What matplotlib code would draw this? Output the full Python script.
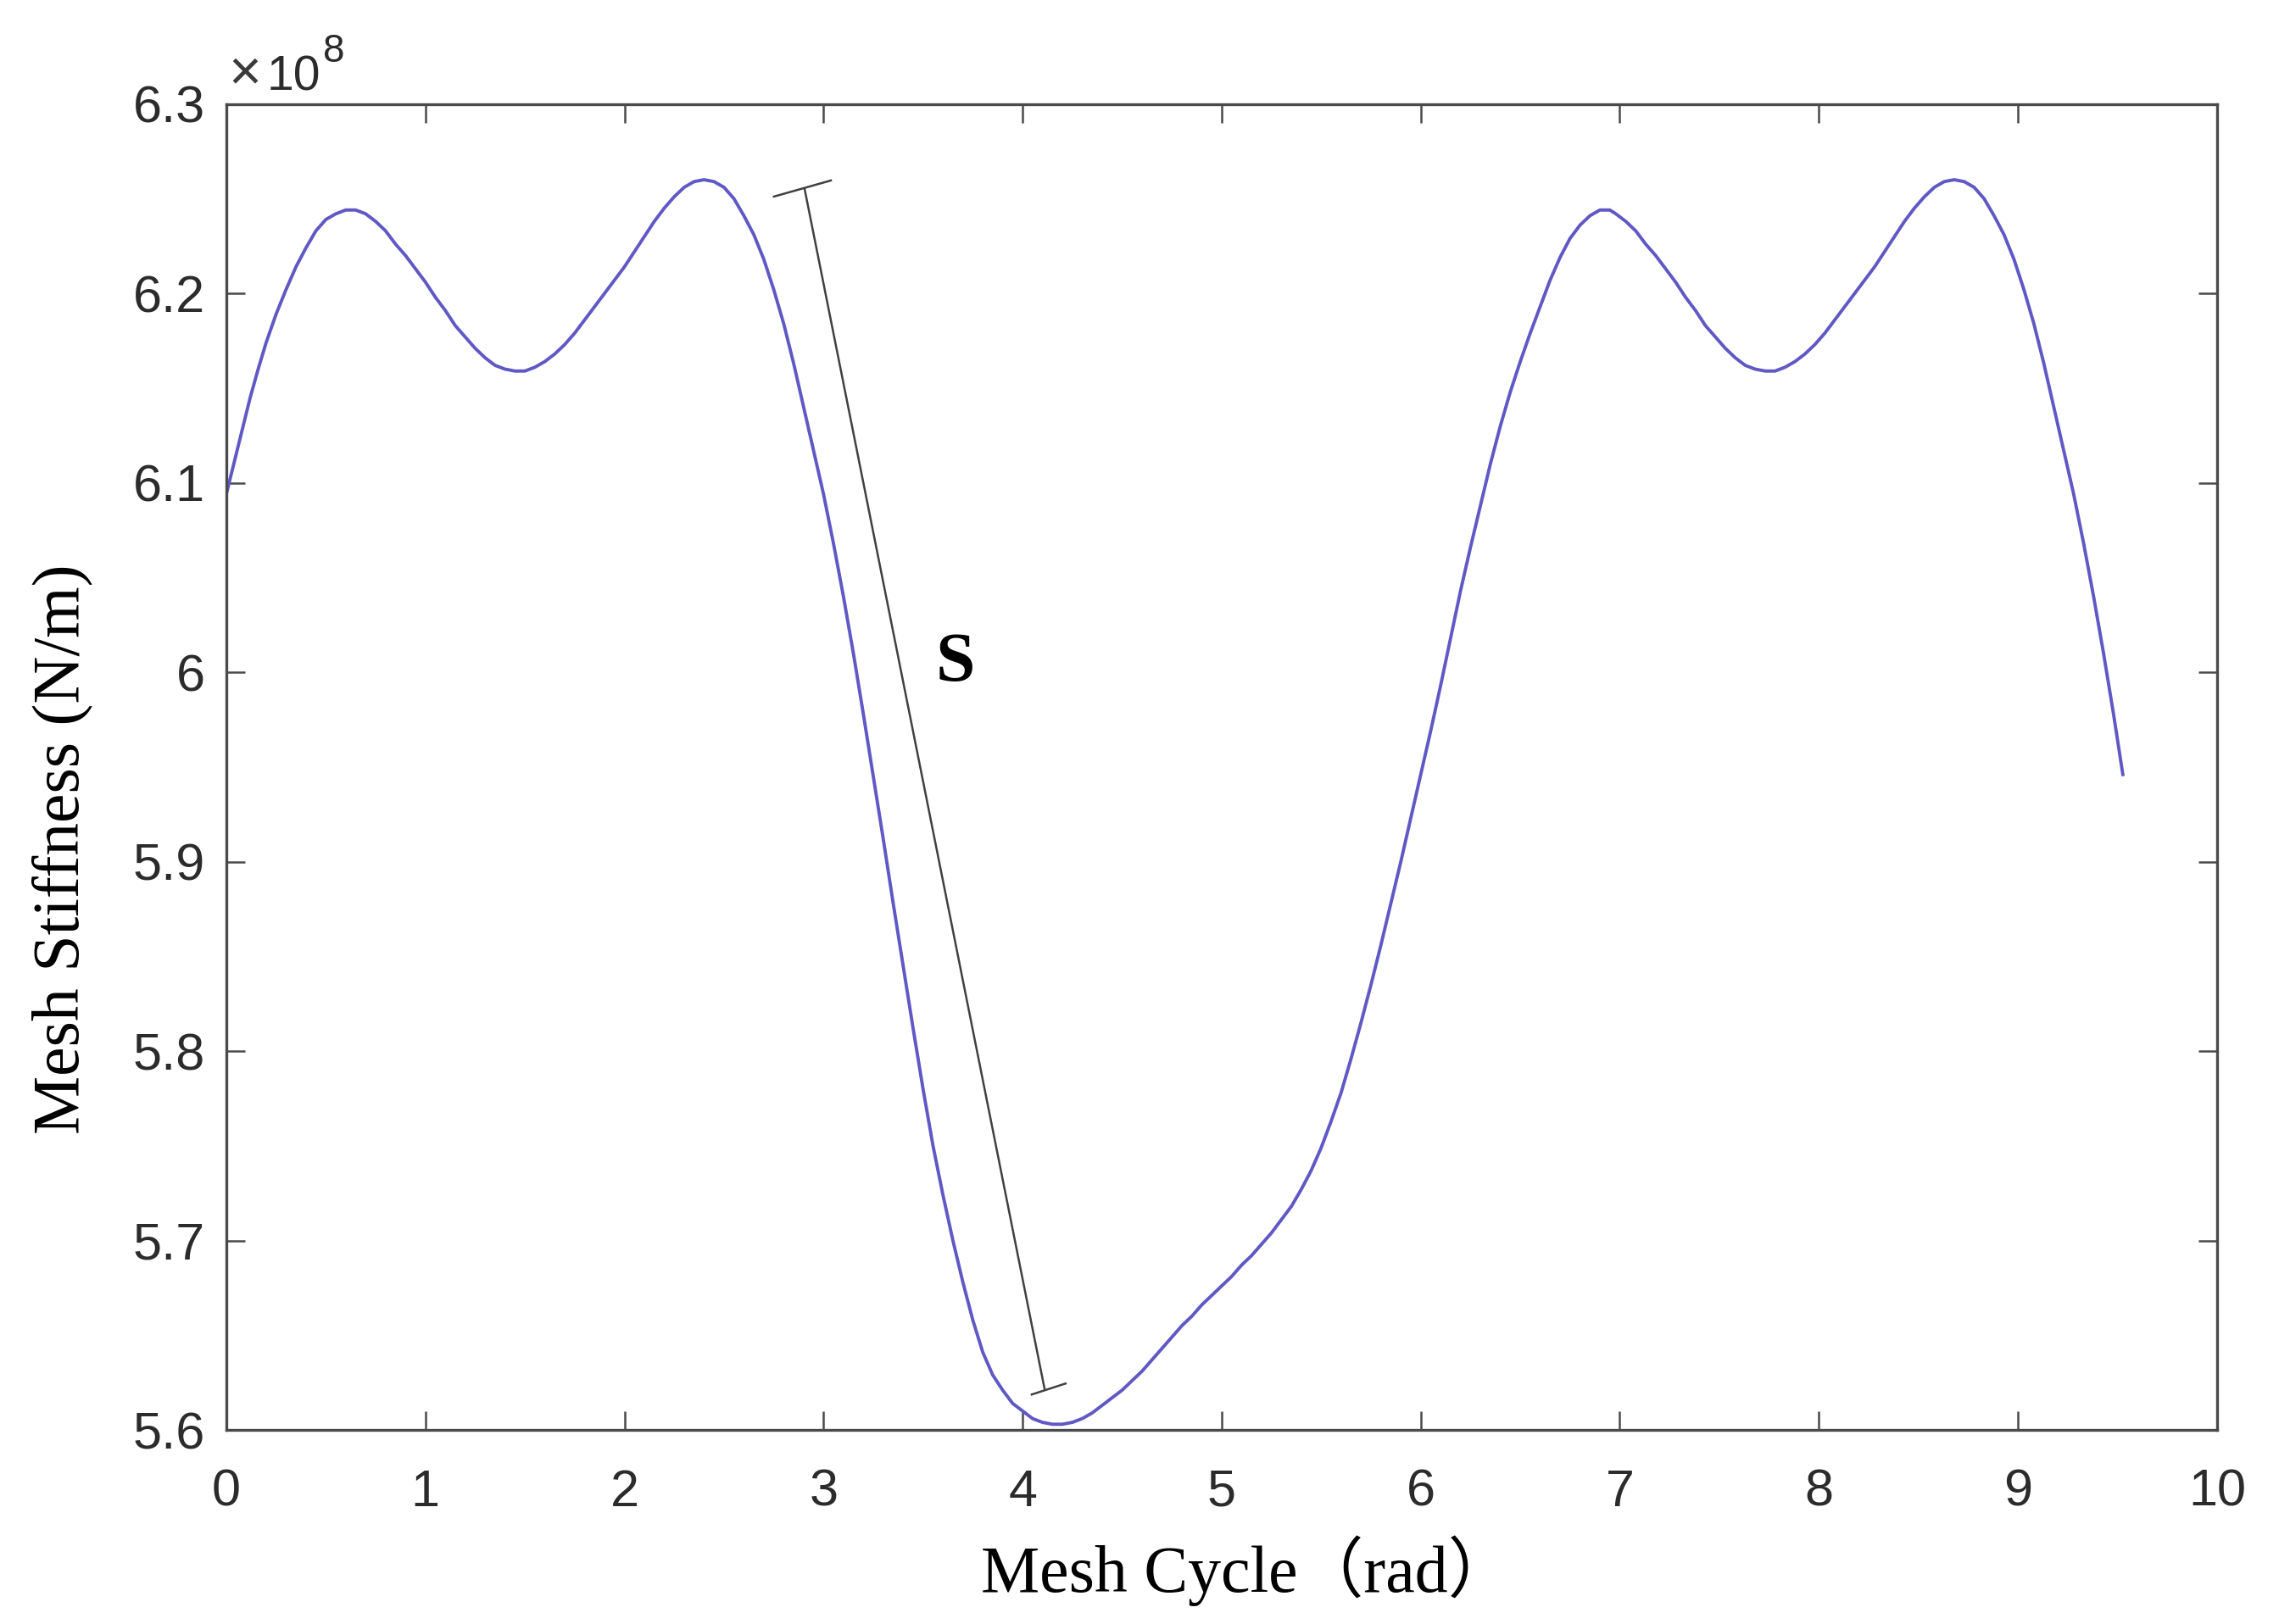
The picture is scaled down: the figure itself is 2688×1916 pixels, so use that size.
import numpy as np
import matplotlib
matplotlib.use("Agg")
import matplotlib.pyplot as plt
from matplotlib.ticker import FuncFormatter, MultipleLocator

# mesh stiffness (x in rad, y in 1e8 N/m)
cycle = [0.00, 0.04, 0.08, 0.12, 0.16, 0.20, 0.25, 0.30, 0.35, 0.40,
         0.45, 0.50, 0.55, 0.60, 0.65, 0.70, 0.75, 0.80, 0.85, 0.90,
         0.95, 1.00, 1.05, 1.10, 1.15, 1.20, 1.25, 1.30, 1.35, 1.40,
         1.45, 1.50, 1.55, 1.60, 1.65, 1.70, 1.75, 1.80, 1.85, 1.90,
         1.95, 2.00, 2.05, 2.10, 2.15, 2.20, 2.25, 2.30, 2.35, 2.40,
         2.45, 2.50, 2.55, 2.60, 2.65, 2.70, 2.75, 2.80, 2.85, 2.90,
         2.95, 3.00, 3.05, 3.10, 3.15, 3.20, 3.25, 3.30, 3.35, 3.40,
         3.45, 3.50, 3.55, 3.60, 3.65, 3.70, 3.75, 3.80, 3.85, 3.90,
         3.95, 4.00, 4.05, 4.10, 4.15, 4.20, 4.25, 4.30, 4.35, 4.40,
         4.45, 4.50, 4.55, 4.60, 4.65, 4.70, 4.75, 4.80, 4.85, 4.90,
         4.95, 5.00, 5.05, 5.10, 5.15, 5.20, 5.25, 5.30, 5.35, 5.40,
         5.45, 5.50, 5.55, 5.60, 5.65, 5.70, 5.75, 5.80, 5.85, 5.90,
         5.95, 6.00, 6.05, 6.10, 6.15, 6.20, 6.25, 6.30, 6.35, 6.40,
         6.45, 6.50, 6.55, 6.60, 6.65, 6.70, 6.75, 6.80, 6.85, 6.90,
         6.95, 6.98, 7.03, 7.08, 7.13, 7.18, 7.23, 7.28, 7.33, 7.38,
         7.43, 7.48, 7.53, 7.58, 7.63, 7.68, 7.73, 7.78, 7.83, 7.88,
         7.93, 7.98, 8.03, 8.08, 8.13, 8.18, 8.23, 8.28, 8.33, 8.38,
         8.43, 8.48, 8.53, 8.58, 8.63, 8.68, 8.73, 8.78, 8.83, 8.88,
         8.93, 8.98, 9.03, 9.08, 9.13, 9.18, 9.23, 9.28, 9.33, 9.38,
         9.43, 9.48, 9.527]
stiff = [6.094, 6.111, 6.128, 6.145, 6.160, 6.174, 6.189, 6.202, 6.214, 6.224,
         6.233, 6.239, 6.242, 6.244, 6.244, 6.242, 6.238, 6.233, 6.226, 6.220,
         6.213, 6.206, 6.198, 6.191, 6.183, 6.177, 6.171, 6.166, 6.162, 6.160,
         6.159, 6.159, 6.161, 6.164, 6.168, 6.173, 6.179, 6.186, 6.193, 6.200,
         6.207, 6.214, 6.222, 6.230, 6.238, 6.245, 6.251, 6.256, 6.259, 6.260,
         6.259, 6.256, 6.250, 6.241, 6.231, 6.218, 6.202, 6.184, 6.163, 6.140,
         6.117, 6.094, 6.068, 6.040, 6.010, 5.978, 5.945, 5.912, 5.878, 5.845,
         5.812, 5.780, 5.750, 5.724, 5.700, 5.678, 5.658, 5.641, 5.629, 5.621,
         5.614, 5.610, 5.606, 5.604, 5.603, 5.603, 5.604, 5.606, 5.609, 5.613,
         5.617, 5.621, 5.626, 5.631, 5.637, 5.643, 5.649, 5.655, 5.660, 5.666,
         5.671, 5.676, 5.681, 5.687, 5.692, 5.698, 5.704, 5.711, 5.718, 5.727,
         5.737, 5.749, 5.763, 5.778, 5.796, 5.815, 5.835, 5.856, 5.878, 5.900,
         5.923, 5.946, 5.969, 5.993, 6.018, 6.043, 6.066, 6.088, 6.110, 6.130,
         6.148, 6.164, 6.179, 6.193, 6.207, 6.219, 6.229, 6.236, 6.241, 6.244,
         6.244, 6.242, 6.238, 6.233, 6.226, 6.220, 6.213, 6.206, 6.198, 6.191,
         6.183, 6.177, 6.171, 6.166, 6.162, 6.160, 6.159, 6.159, 6.161, 6.164,
         6.168, 6.173, 6.179, 6.186, 6.193, 6.200, 6.207, 6.214, 6.222, 6.230,
         6.238, 6.245, 6.251, 6.256, 6.259, 6.260, 6.259, 6.256, 6.250, 6.241,
         6.231, 6.218, 6.202, 6.184, 6.163, 6.140, 6.117, 6.094, 6.068, 6.040,
         6.010, 5.978, 5.946]

# "S" span marker (data coords, y in 1e8)
s_line_x = [2.905, 4.110]
s_line_y = [6.2551, 5.6219]
cap_top_x = [2.751, 3.037]
cap_top_y = [6.2511, 6.2596]
cap_bot_x = [4.046, 4.216]
cap_bot_y = [5.6187, 5.6245]
s_label = (3.663, 5.9956)

sc = 1e8
x = np.array(cycle)
y = np.array(stiff) * sc

fig = plt.figure(figsize=(13.44, 9.58), dpi=200)
ax = fig.add_axes([0.0993, 0.1195, 0.8735, 0.8165])

ax.plot(x, y, color='#6058c4', lw=1.4)

ax.plot(s_line_x, np.array(s_line_y) * sc, color='#404040', lw=0.9)
ax.plot(cap_top_x, np.array(cap_top_y) * sc, color='#404040', lw=0.9)
ax.plot(cap_bot_x, np.array(cap_bot_y) * sc, color='#404040', lw=0.9)
ax.text(s_label[0], s_label[1] * sc, 'S', fontsize=30, fontweight='bold',
        family='Liberation Serif', ha='center', va='baseline', color='black')

ax.set_xlim(0, 10)
ax.set_ylim(5.6e8, 6.3e8)
ax.xaxis.set_major_locator(MultipleLocator(1))
ax.yaxis.set_major_locator(MultipleLocator(0.1e8))
ax.yaxis.set_major_formatter(FuncFormatter(lambda v, p: '%g' % round(v / sc, 2)))

ax.tick_params(direction='in', length=8, width=0.9, top=True, right=True,
               labelsize=22, labelcolor='#2b2b2b', color='#4a4a4a')
ax.tick_params(axis='x', pad=16.5)
ax.tick_params(axis='y', pad=9)
for lab in ax.get_xticklabels() + ax.get_yticklabels():
    lab.set_family('Liberation Sans')
for sp in ax.spines.values():
    sp.set_color('#4a4a4a')
    sp.set_linewidth(1.2)

# exponent label, MATLAB style
ax.text(0.001, 1.011, '×', transform=ax.transAxes, fontsize=24,
        family='Liberation Sans', color='#3a3a3a', ha='left', va='baseline')
ax.text(0.0204, 1.010, '10', transform=ax.transAxes, fontsize=20.5,
        family='Liberation Sans', color='#2b2b2b', ha='left', va='baseline')
ax.text(0.0484, 1.0318, '8', transform=ax.transAxes, fontsize=16.5,
        family='Liberation Sans', color='#2b2b2b', ha='left', va='baseline')

ax.set_xlabel('Mesh Cycle（rad）', fontsize=28,
              family=['Liberation Serif', 'Noto Sans CJK SC'])
ax.xaxis.label.set_va('baseline')
ax.xaxis.set_label_coords(0.513, -0.1221)
ax.set_ylabel('Mesh Stiffness (N/m)', fontsize=28,
              family=['Liberation Serif', 'Noto Sans CJK SC'])
ax.yaxis.set_label_coords(-0.067, 0.438)

fig.savefig('out.png', dpi=200, facecolor='white')
